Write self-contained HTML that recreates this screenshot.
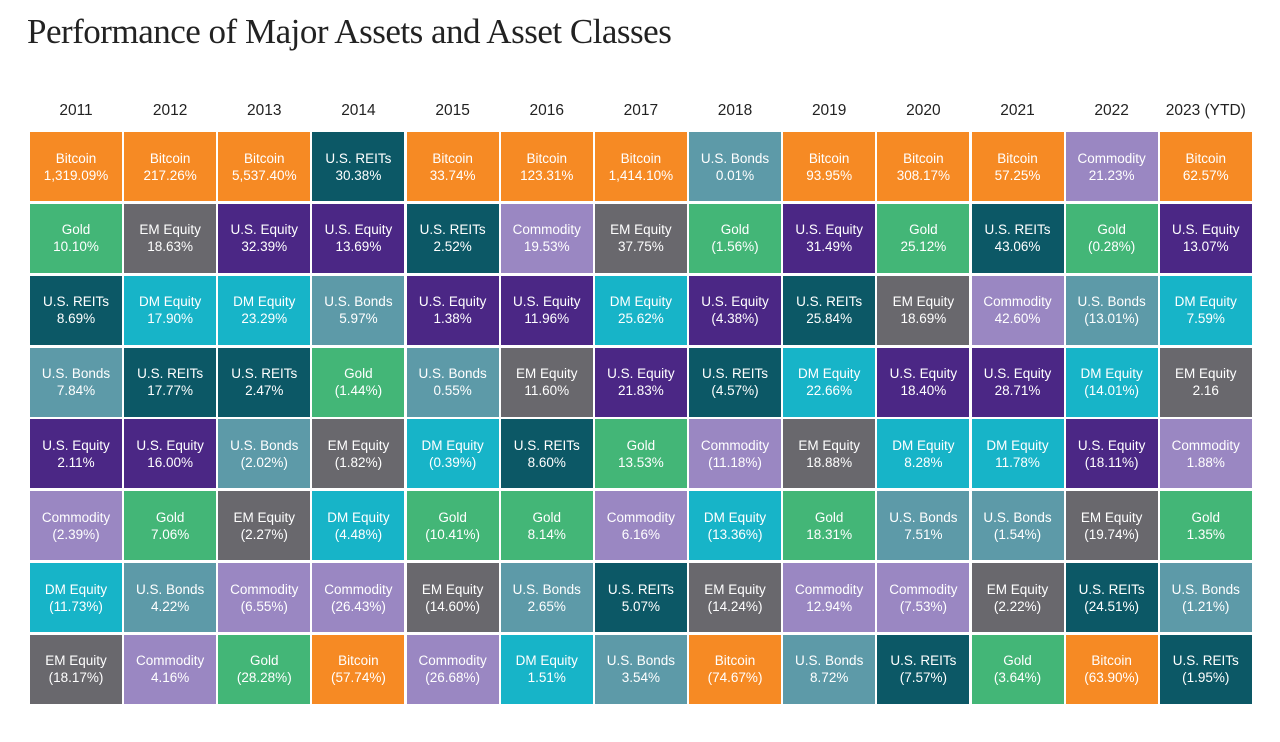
<!DOCTYPE html>
<html><head><meta charset="utf-8">
<style>
body{margin:0;width:1280px;height:742px;background:#fff;overflow:hidden;font-family:"Liberation Sans",sans-serif;}
#title{position:absolute;left:27px;top:12px;font-family:"Liberation Serif",serif;font-size:35px;color:#222;letter-spacing:-0.5px;}
.yr{position:absolute;top:102px;width:92px;text-align:center;font-size:15.5px;color:#222;}
.cell{position:absolute;width:92px;height:69px;color:#fff;text-align:center;font-size:13.5px;line-height:17px;display:flex;flex-direction:column;justify-content:center;}
</style></head><body>
<div id="title">Performance of Major Assets and Asset Classes</div>
<div id="chart"></div>
<script>
const years=["2011","2012","2013","2014","2015","2016","2017","2018","2019","2020","2021","2022","2023 (YTD)"];
const assets=[
["Bitcoin","Gold","U.S. REITs","U.S. Bonds","U.S. Equity","Commodity","DM Equity","EM Equity"],
["Bitcoin","EM Equity","DM Equity","U.S. REITs","U.S. Equity","Gold","U.S. Bonds","Commodity"],
["Bitcoin","U.S. Equity","DM Equity","U.S. REITs","U.S. Bonds","EM Equity","Commodity","Gold"],
["U.S. REITs","U.S. Equity","U.S. Bonds","Gold","EM Equity","DM Equity","Commodity","Bitcoin"],
["Bitcoin","U.S. REITs","U.S. Equity","U.S. Bonds","DM Equity","Gold","EM Equity","Commodity"],
["Bitcoin","Commodity","U.S. Equity","EM Equity","U.S. REITs","Gold","U.S. Bonds","DM Equity"],
["Bitcoin","EM Equity","DM Equity","U.S. Equity","Gold","Commodity","U.S. REITs","U.S. Bonds"],
["U.S. Bonds","Gold","U.S. Equity","U.S. REITs","Commodity","DM Equity","EM Equity","Bitcoin"],
["Bitcoin","U.S. Equity","U.S. REITs","DM Equity","EM Equity","Gold","Commodity","U.S. Bonds"],
["Bitcoin","Gold","EM Equity","U.S. Equity","DM Equity","U.S. Bonds","Commodity","U.S. REITs"],
["Bitcoin","U.S. REITs","Commodity","U.S. Equity","DM Equity","U.S. Bonds","EM Equity","Gold"],
["Commodity","Gold","U.S. Bonds","DM Equity","U.S. Equity","EM Equity","U.S. REITs","Bitcoin"],
["Bitcoin","U.S. Equity","DM Equity","EM Equity","Commodity","Gold","U.S. Bonds","U.S. REITs"]];
const returns=[
["1,319.09%","10.10%","8.69%","7.84%","2.11%","(2.39%)","(11.73%)","(18.17%)"],
["217.26%","18.63%","17.90%","17.77%","16.00%","7.06%","4.22%","4.16%"],
["5,537.40%","32.39%","23.29%","2.47%","(2.02%)","(2.27%)","(6.55%)","(28.28%)"],
["30.38%","13.69%","5.97%","(1.44%)","(1.82%)","(4.48%)","(26.43%)","(57.74%)"],
["33.74%","2.52%","1.38%","0.55%","(0.39%)","(10.41%)","(14.60%)","(26.68%)"],
["123.31%","19.53%","11.96%","11.60%","8.60%","8.14%","2.65%","1.51%"],
["1,414.10%","37.75%","25.62%","21.83%","13.53%","6.16%","5.07%","3.54%"],
["0.01%","(1.56%)","(4.38%)","(4.57%)","(11.18%)","(13.36%)","(14.24%)","(74.67%)"],
["93.95%","31.49%","25.84%","22.66%","18.88%","18.31%","12.94%","8.72%"],
["308.17%","25.12%","18.69%","18.40%","8.28%","7.51%","(7.53%)","(7.57%)"],
["57.25%","43.06%","42.60%","28.71%","11.78%","(1.54%)","(2.22%)","(3.64%)"],
["21.23%","(0.28%)","(13.01%)","(14.01%)","(18.11%)","(19.74%)","(24.51%)","(63.90%)"],
["62.57%","13.07%","7.59%","2.16","1.88%","1.35%","(1.21%)","(1.95%)"]];
const colors={"Bitcoin":"#f68a24","Gold":"#43b677","U.S. REITs":"#0c5866","U.S. Bonds":"#5d9aa8","U.S. Equity":"#4b2785","Commodity":"#9a87c2","DM Equity":"#17b4c8","EM Equity":"#69686d"};
const x0=30,colPitch=94.15,y0=132,rowPitch=71.85;
const chart=document.getElementById('chart');
years.forEach((y,i)=>{
  const h=document.createElement('div');
  h.className='yr';
  
  
  h.style.left=(x0+i*colPitch)+'px';
  h.textContent=y;
  chart.appendChild(h);
  assets[i].forEach((a,r)=>{
    const c=document.createElement('div');
    c.className='cell';
    
    
    c.style.left=(x0+i*colPitch)+'px';
    c.style.top=(y0+r*rowPitch)+'px';
    c.style.background=colors[a];
    c.innerHTML='<div>'+a+'</div><div>'+returns[i][r]+'</div>';
    chart.appendChild(c);
  });
});
</script>
</body></html>
